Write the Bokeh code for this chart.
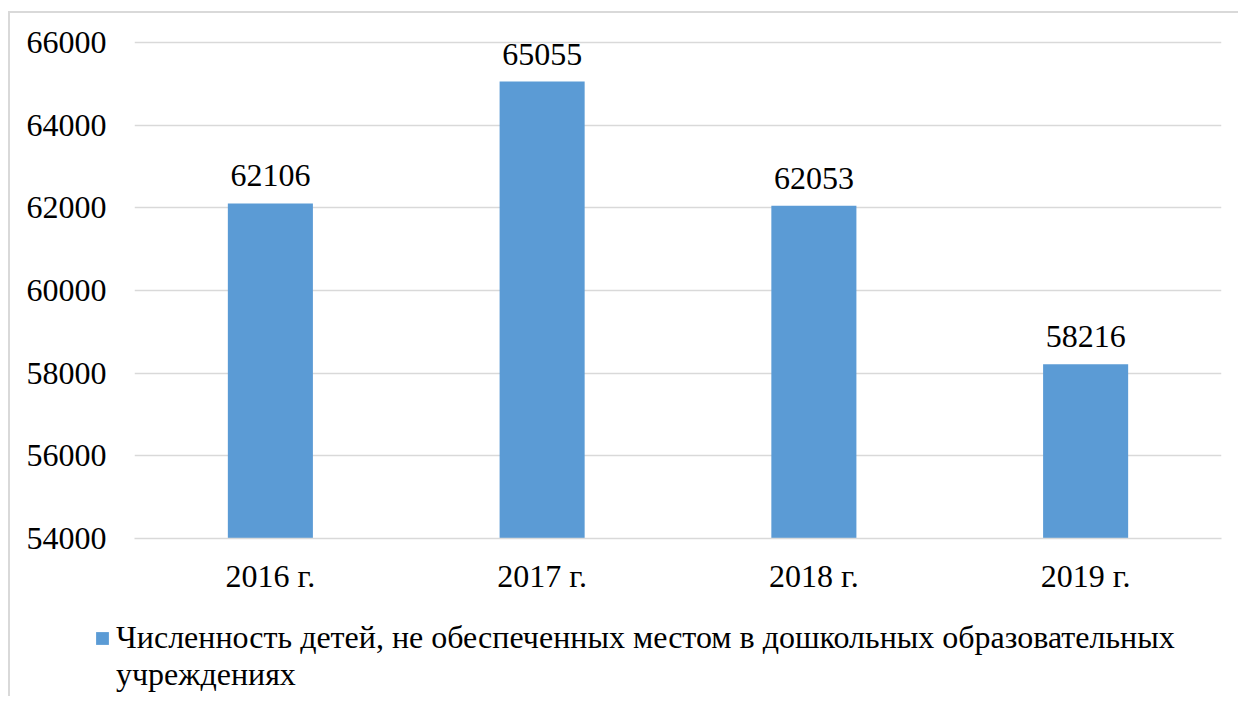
from bokeh.plotting import figure
from bokeh.layouts import column
from bokeh.models import (FactorRange, Range1d, ColumnDataSource, LabelSet, Legend, LegendItem,
                          FixedTicker, NumeralTickFormatter)
from bokeh.embed import file_html
from bokeh.resources import INLINE

years = ["2016 г.", "2017 г.", "2018 г.", "2019 г."]
values = [62106, 65055, 62053, 58216]
label_texts = [str(v) for v in values]
y_ticks = [54000, 56000, 58000, 60000, 62000, 64000, 66000]
legend_line1 = "Численность детей, не обеспеченных местом в дошкольных образовательных"
legend_line2 = "учреждениях"

FONT = "Liberation Serif"
BAR = "#5b9bd5"
GRID = "#d9d9d9"

y_min = 54000
y_max = 54000 + 12000 * 517 / 496

src = ColumnDataSource(dict(x=years, top=values, txt=label_texts))

p = figure(
    x_range=FactorRange(*years, range_padding=0),
    y_range=Range1d(y_min, y_max),
    width=1228, height=597,
    min_border_left=124, min_border_right=17, min_border_top=8, min_border_bottom=72,
    output_backend="svg", toolbar_location=None,
)
p.frame_align = False
p.outline_line_color = None
p.background_fill_color = "white"
p.border_fill_color = "white"

bars = p.vbar(x="x", top="top", bottom=y_min, width=0.313, source=src,
              fill_color=BAR, line_color=None)

labels = LabelSet(x="x", y="top", text="txt", source=src, y_offset=17,
                  text_align="center", text_baseline="alphabetic",
                  text_font=FONT, text_font_size="32px", text_color="#000000")
p.add_layout(labels)

# axes
p.yaxis.ticker = FixedTicker(ticks=y_ticks)
p.yaxis.formatter = NumeralTickFormatter(format="0")
p.yaxis.axis_line_color = None
p.yaxis.major_tick_line_color = None
p.yaxis.minor_tick_line_color = None
p.yaxis.major_tick_out = 0
p.yaxis.major_label_standoff = 28
p.yaxis.major_label_text_font = FONT
p.yaxis.major_label_text_font_size = "32px"
p.yaxis.major_label_text_color = "#000000"

p.xaxis.axis_line_color = GRID
p.xaxis.axis_line_width = 1.5
p.xaxis.major_tick_line_color = None
p.xaxis.minor_tick_line_color = None
p.xaxis.major_tick_out = 0
p.xaxis.major_label_standoff = 19
p.xaxis.major_label_text_font = FONT
p.xaxis.major_label_text_font_size = "32px"
p.xaxis.major_label_text_color = "#000000"

p.xgrid.grid_line_color = None
p.ygrid.grid_line_color = GRID
p.ygrid.grid_line_width = 1.5

# legend strip: a separate figure whose frame is the whole strip, so the legend is not clipped.
# The series is attached here with zero width and a y range far from the data,
# so nothing of it is visible except its legend swatch.
p2 = figure(
    x_range=FactorRange(*years, range_padding=0), y_range=Range1d(0, 1000),
    x_axis_type=None, y_axis_type=None,
    width=1228, height=86,
    min_border_left=0, min_border_right=0, min_border_top=0, min_border_bottom=0,
    output_backend="svg", toolbar_location=None,
)
p2.frame_align = False
p2.grid.visible = False
p2.outline_line_color = None
p2.border_fill_color = "white"
p2.background_fill_color = "white"

leg_bar = p2.vbar(x="x", top="top", bottom=y_min, width=0, source=src,
                  fill_color=BAR, line_color=None)
leg_blank = p2.vbar(x="x", top="top", bottom=y_min, width=0, source=src,
                    fill_alpha=0, line_alpha=0)

legend = Legend(
    items=[LegendItem(label=legend_line1, renderers=[leg_bar]),
           LegendItem(label=legend_line2, renderers=[leg_blank])],
    location=(84, 3),
    orientation="vertical",
    glyph_width=16, glyph_height=16, label_standoff=6,
    label_height=37, spacing=0, padding=0, margin=0,
    border_line_color=None, background_fill_alpha=0,
    label_text_font=FONT, label_text_font_size="32px", label_text_color="#000000",
)
p2.add_layout(legend)

layout = column(p, p2, spacing=0)
layout.margin = (11, 0, 0, 8)
layout.styles = {"border-left": "2px solid #d9d9d9", "border-top": "2px solid #d9d9d9"}

open("out.html", "w").write(file_html(layout, INLINE))
